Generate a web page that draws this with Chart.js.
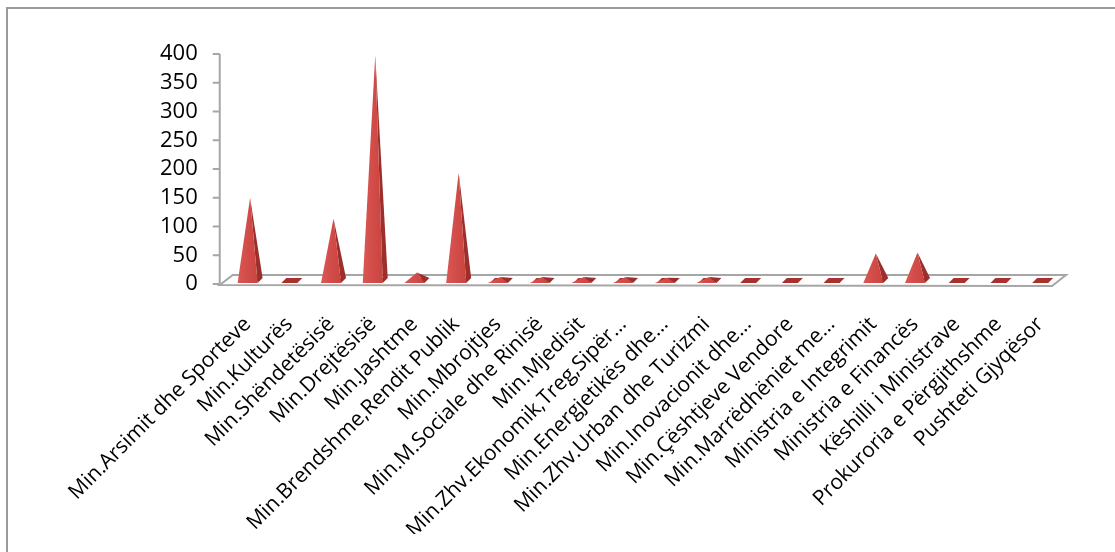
<!DOCTYPE html>
<html>
<head>
<meta charset="utf-8">
<script src="https://cdn.jsdelivr.net/npm/chart.js@4.4.1/dist/chart.umd.min.js"></script>
<style>
  html, body { margin: 0; padding: 0; background: #fff; }
  canvas { display: block; }
</style>
</head>
<body>
<canvas id="chart" width="1115" height="552"></canvas>
<script>
const categories = [
  "Min.Arsimit dhe Sporteve",
  "Min.Kulturës",
  "Min.Shëndetësisë",
  "Min.Drejtësisë",
  "Min.Jashtme",
  "Min.Brendshme,Rendit Publik",
  "Min.Mbrojtjes",
  "Min.M.Sociale dhe Rinisë",
  "Min.Mjedisit",
  "Min.Zhv.Ekonomik,Treg,Sipër…",
  "Min.Energjetikës dhe…",
  "Min.Zhv.Urban dhe Turizmi",
  "Min.Inovacionit dhe…",
  "Min.Çështjeve Vendore",
  "Min.Marrëdhëniet me…",
  "Ministria e Integrimit",
  "Ministria e Financës",
  "Këshilli i Ministrave",
  "Prokuroria e Përgjithshme",
  "Pushteti Gjyqësor"
];
const counts = [150, 2, 114, 398, 20, 194, 12, 12, 12, 12, 11, 12, 2, 2, 2, 53, 55, 2, 2, 2];
const yMax = 400;
const yStep = 50;

const FONT = "'Open Sans', 'DejaVu Sans', sans-serif";
const AXIS_GREY = "#a6a6a6";

// outer frame of the chart object (only top and left edges are in view)
const framePlugin = {
  id: "frame",
  beforeDraw(chart) {
    const ctx = chart.ctx;
    ctx.save();
    ctx.fillStyle = "#fff";
    ctx.fillRect(0, 0, chart.width, chart.height);
    ctx.strokeStyle = "#9a9a9a";
    ctx.lineWidth = 2;
    ctx.beginPath();
    ctx.moveTo(7, chart.height + 5);
    ctx.lineTo(7, 8);
    ctx.lineTo(chart.width + 5, 8);
    ctx.stroke();
    ctx.restore();
  }
};

// 3d floor + value axis line with tick marks
const floorPlugin = {
  id: "floor",
  beforeDatasetsDraw(chart) {
    const ctx = chart.ctx;
    const ys = chart.scales.y;
    const area = chart.chartArea;
    const y0 = ys.getPixelForValue(0);
    const ax = area.left - 7;
    ctx.save();
    ctx.strokeStyle = AXIS_GREY;
    ctx.lineWidth = 2;
    ctx.beginPath();
    ctx.moveTo(ax, ys.getPixelForValue(yMax));
    ctx.lineTo(ax, y0);
    ctx.stroke();
    ys.ticks.forEach(t => {
      const py = ys.getPixelForValue(t.value);
      ctx.beginPath();
      ctx.moveTo(ax - 7, py);
      ctx.lineTo(ax, py);
      ctx.stroke();
    });
    // floor slab
    ctx.beginPath();
    ctx.moveTo(ax, y0 + 1);
    ctx.lineTo(ax + 13, y0 - 9);
    ctx.lineTo(area.right + 5, y0 - 9);
    ctx.lineTo(area.right - 9, y0 + 2);
    ctx.closePath();
    ctx.stroke();
    ctx.restore();
  }
};

// draw each bar as a 3d pyramid from the bar element geometry
const pyramidPlugin = {
  id: "pyramids",
  afterDatasetsDraw(chart) {
    const ctx = chart.ctx;
    const meta = chart.getDatasetMeta(0);
    const hw = 10, dx = 5, dy = 5;
    ctx.save();
    meta.data.forEach(bar => {
      const x = bar.x;
      const b = bar.base - 1;
      const top = bar.y;
      const apx = x + dx / 2;
      const apy = Math.min(top, b - dy / 2);
      ctx.fillStyle = "#a8302d";
      ctx.beginPath();
      ctx.moveTo(x - hw + 2, b);
      ctx.lineTo(x + hw - 2, b);
      ctx.lineTo(x + hw - 2 + dx, b - dy);
      ctx.lineTo(x - hw + 2 + dx, b - dy);
      ctx.closePath();
      ctx.fill();
      if (b - top < 2) return;
      // right face
      ctx.fillStyle = "#9c2f2c";
      ctx.beginPath();
      ctx.moveTo(x + hw, b);
      ctx.lineTo(x + hw + dx, b - dy);
      ctx.lineTo(apx, apy);
      ctx.closePath();
      ctx.fill();
      // front face
      const g = ctx.createLinearGradient(x - hw, 0, x + hw, 0);
      g.addColorStop(0, "#db5753");
      g.addColorStop(1, "#c9433f");
      ctx.fillStyle = g;
      ctx.beginPath();
      ctx.moveTo(x - hw, b);
      ctx.lineTo(x + hw, b);
      ctx.lineTo(apx, apy);
      ctx.closePath();
      ctx.fill();
    });
    ctx.restore();
  }
};

new Chart(document.getElementById("chart"), {
  type: "bar",
  data: {
    labels: categories,
    datasets: [
      {
        data: counts,
        backgroundColor: "rgba(0,0,0,0)",
        borderWidth: 0,
      },
    ],
  },
  options: {
    responsive: false,
    animation: false,
    layout: { padding: { left: 131, top: 54, right: 54, bottom: 18 } },
    plugins: { legend: { display: false }, tooltip: { enabled: false } },
    scales: {
      x: {
        grid: { display: false, drawTicks: false },
        border: { display: false },
        afterFit(scale) {
          scale.paddingLeft = 0;
          scale.paddingRight = 0;
          scale.height = 250;
        },
        ticks: {
          autoSkip: false,
          minRotation: 45,
          maxRotation: 45,
          padding: 28,
          color: "#000",
          font: { family: FONT, size: 21 },
        },
      },
      y: {
        min: 0,
        max: yMax,
        grid: { display: false, drawTicks: false },
        border: { display: false },
        ticks: {
          autoSkip: false,
          stepSize: yStep,
          padding: 29,
          color: "#000",
          font: { family: FONT, size: 22 },
        },
      },
    },
  },
  plugins: [framePlugin, floorPlugin, pyramidPlugin],
});
</script>
</body>
</html>
